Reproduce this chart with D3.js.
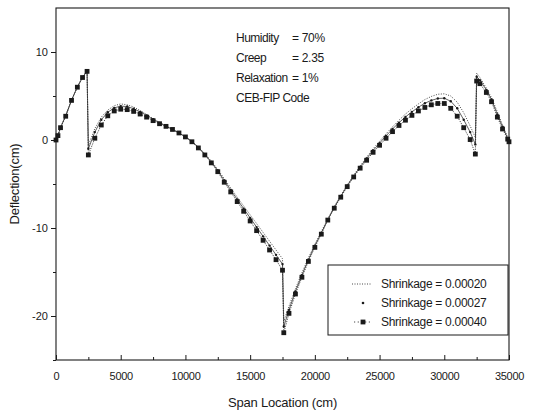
<!DOCTYPE html>
<html><head><meta charset="utf-8">
<script src="https://cdn.jsdelivr.net/npm/d3@7"></script>
<style>
html,body{margin:0;padding:0;background:#fff;}
text{font-family:"Liberation Sans",Arial,Helvetica,sans-serif;fill:#1a1a1a;}
</style></head>
<body><svg id="chart" width="538" height="413"></svg>
<script>
// Span location nodes (cm)
const spanX = [0,150,350,750,1200,1650,2050,2400,
 2500,3000,3500,4000,4500,5000,5500,6000,6500,7000,7500,8000,8500,9000,9500,10000,10500,11000,11500,12000,12500,13000,13500,14000,14500,15000,15500,16000,16500,17000,17500,
 17600,18000,18500,19000,19500,20000,20500,21000,21500,22000,22500,23000,23500,24000,24500,25000,25500,26000,26500,27000,27500,28000,28500,29000,29500,30000,30500,31000,31500,32000,32400,
 32500,32750,33250,33650,34100,34500,34900,35000];
// Deflection (cm), Shrinkage = 0.00020
const shrink020 = [0,0.5,1.45,2.8,4.55,6.05,7.15,7.9,
 -0.6,1.3,2.6,3.4,3.9,4.1,4.0,3.75,3.35,2.9,2.45,2.0,1.6,1.2,0.8,0.35,-0.15,-0.8,-1.55,-2.4,-3.35,-4.4,-5.45,-6.5,-7.5,-8.5,-9.5,-10.5,-11.5,-12.5,-13.5,
 -20.6,-18.9,-16.9,-15.1,-13.4,-11.85,-10.4,-8.95,-7.55,-6.3,-5.1,-4.0,-2.95,-1.95,-1.0,-0.15,0.7,1.5,2.25,2.95,3.55,4.1,4.6,4.95,5.2,5.25,5.0,4.3,3.1,1.6,0.3,
 7.6,7.1,5.9,4.8,3.2,1.7,0.3,0];
// Shrinkage = 0.00027
const shrink027 = [0,0.5,1.42,2.75,4.52,6.02,7.12,7.85,
 -1.0,0.9,2.3,3.15,3.65,3.85,3.8,3.55,3.2,2.8,2.35,1.95,1.58,1.2,0.8,0.35,-0.17,-0.85,-1.62,-2.5,-3.47,-4.6,-5.68,-6.75,-7.8,-8.85,-9.9,-10.95,-12.0,-13.05,-14.1,
 -21.2,-19.3,-17.2,-15.35,-13.6,-12.0,-10.55,-9.05,-7.65,-6.4,-5.2,-4.1,-3.07,-2.1,-1.2,-0.35,0.47,1.25,1.97,2.62,3.2,3.72,4.18,4.5,4.72,4.75,4.4,3.6,2.3,0.9,-0.5,
 7.2,6.8,5.7,4.6,2.9,1.5,0.2,-0.1];
// Shrinkage = 0.00040
const shrink040 = [0,0.5,1.4,2.7,4.5,6.0,7.1,7.8,
 -1.7,0.2,1.7,2.75,3.3,3.5,3.45,3.25,2.95,2.6,2.2,1.85,1.55,1.2,0.8,0.35,-0.2,-0.9,-1.7,-2.6,-3.6,-4.8,-5.9,-7.0,-8.1,-9.2,-10.3,-11.4,-12.5,-13.6,-14.8,
 -21.9,-19.7,-17.5,-15.6,-13.8,-12.2,-10.7,-9.1,-7.75,-6.5,-5.3,-4.2,-3.2,-2.3,-1.4,-0.6,0.2,0.95,1.65,2.25,2.8,3.3,3.7,4.0,4.15,4.15,3.6,2.7,1.4,0.05,-1.6,
 6.7,6.4,5.4,4.35,2.6,1.25,0.1,-0.2];

const seriesNames = ["Shrinkage = 0.00020","Shrinkage = 0.00027","Shrinkage = 0.00040"];
const xTicks = [0,5000,10000,15000,20000,25000,30000,35000];
const yTicks = [-20,-10,0,10];
const annotLabels = ["Humidity","Creep","Relaxation","CEB-FIP Code"];
const annotValues = ["= 70%","= 2.35","= 1%",""];

const svg = d3.select("#chart");
svg.append("rect").attr("width",538).attr("height",413).attr("fill","#fff");
const L=56, R=509, T=8, B=360;
const x = d3.scaleLinear().domain([0,35000]).range([L,R]);
const y = d3.scaleLinear().domain([-25,15]).range([B,T]);
const ink="#1a1a1a";

// frame
svg.append("rect").attr("x",L).attr("y",T).attr("width",R-L).attr("height",B-T)
  .attr("fill","none").attr("stroke",ink).attr("stroke-width",1.1);

// x axis (ticks inward)
const gx = svg.append("g").attr("transform",`translate(0,${B})`)
  .call(d3.axisBottom(x).tickValues(xTicks).tickSize(-5).tickPadding(12).tickFormat(d=>String(d)));
gx.select(".domain").remove();
gx.selectAll("line").attr("stroke",ink);
gx.selectAll("text").attr("font-size",11).attr("letter-spacing",-0.3);
const gxm = svg.append("g").attr("transform",`translate(0,${B})`)
  .call(d3.axisBottom(x).tickValues(d3.range(2500,35000,5000)).tickSize(-3).tickFormat(""));
gxm.select(".domain").remove(); gxm.selectAll("line").attr("stroke",ink);

// y axis (ticks outward)
const gy = svg.append("g").attr("transform",`translate(${L},0)`)
  .call(d3.axisLeft(y).tickValues(yTicks).tickSize(5).tickPadding(3).tickFormat(d=>String(d)));
gy.select(".domain").remove();
gy.selectAll("line").attr("stroke",ink);
gy.selectAll("text").attr("font-size",11);
const gym = svg.append("g").attr("transform",`translate(${L},0)`)
  .call(d3.axisLeft(y).tickValues([-25,-15,-5,5]).tickSize(3).tickFormat(""));
gym.select(".domain").remove(); gym.selectAll("line").attr("stroke",ink);

// axis titles
svg.append("text").attr("x",(L+R)/2).attr("y",407).attr("text-anchor","middle")
  .attr("font-size",13).attr("letter-spacing",-0.2).text("Span Location (cm)");
svg.append("text").attr("transform",`translate(19,${(T+B)/2}) rotate(-90)`)
  .attr("text-anchor","middle").attr("font-size",13).attr("letter-spacing",-0.2).text("Deflection(cm)");

const line = d3.line().x(d=>x(d[0])).y(d=>y(d[1]));
const d20 = spanX.map((v,i)=>[v,shrink020[i]]);
const d27 = spanX.map((v,i)=>[v,shrink027[i]]);
const d40 = spanX.map((v,i)=>[v,shrink040[i]]);

// series 0.00040: dotted connector + squares
svg.append("path").datum(d40).attr("d",line).attr("fill","none")
  .attr("stroke",ink).attr("stroke-width",0.8).attr("stroke-dasharray","1.2,1.2");
// series 0.00027: thin solid line + small dots
svg.append("path").datum(d27).attr("d",line).attr("fill","none")
  .attr("stroke",ink).attr("stroke-width",0.7);
// series 0.00020: dotted line
svg.append("path").datum(d20).attr("d",line).attr("fill","none")
  .attr("stroke","#333").attr("stroke-width",0.9).attr("stroke-dasharray","1,1.5");
svg.append("g").selectAll("rect").data(d40).join("rect")
  .attr("x",d=>x(d[0])-2.4).attr("y",d=>y(d[1])-2.4).attr("width",4.8).attr("height",4.8).attr("fill",ink);
svg.append("g").selectAll("circle").data(d27).join("circle")
  .attr("cx",d=>x(d[0])).attr("cy",d=>y(d[1])).attr("r",1.2).attr("fill",ink);

// annotation
annotLabels.forEach((t,i)=>{
  const yy = 42 + i*20;
  svg.append("text").attr("x",236).attr("y",yy).attr("font-size",12).attr("letter-spacing",-0.5).text(t);
  if(annotValues[i]) svg.append("text").attr("x",292).attr("y",yy).attr("font-size",12).attr("letter-spacing",-0.3).text(annotValues[i]);
});

// legend
const lg = svg.append("g");
lg.append("rect").attr("x",328).attr("y",265).attr("width",180).attr("height",70)
  .attr("fill","#fff").attr("stroke",ink).attr("stroke-width",1);
seriesNames.forEach((n,i)=>{
  const yy = 284 + i*19;
  if(i===0) lg.append("line").attr("x1",352).attr("x2",372).attr("y1",yy).attr("y2",yy)
     .attr("stroke","#333").attr("stroke-width",0.9).attr("stroke-dasharray","1,1.5");
  if(i===1) lg.append("circle").attr("cx",363).attr("cy",yy).attr("r",1.3).attr("fill",ink);
  if(i===2){
    lg.append("line").attr("x1",354).attr("x2",372).attr("y1",yy).attr("y2",yy)
      .attr("stroke",ink).attr("stroke-width",0.8).attr("stroke-dasharray","1.2,2.5");
    lg.append("rect").attr("x",360.6).attr("y",yy-2.4).attr("width",4.8).attr("height",4.8).attr("fill",ink);
  }
  lg.append("text").attr("x",381).attr("y",yy+4).attr("font-size",12).attr("letter-spacing",-0.3).text(n);
});
</script></body></html>
